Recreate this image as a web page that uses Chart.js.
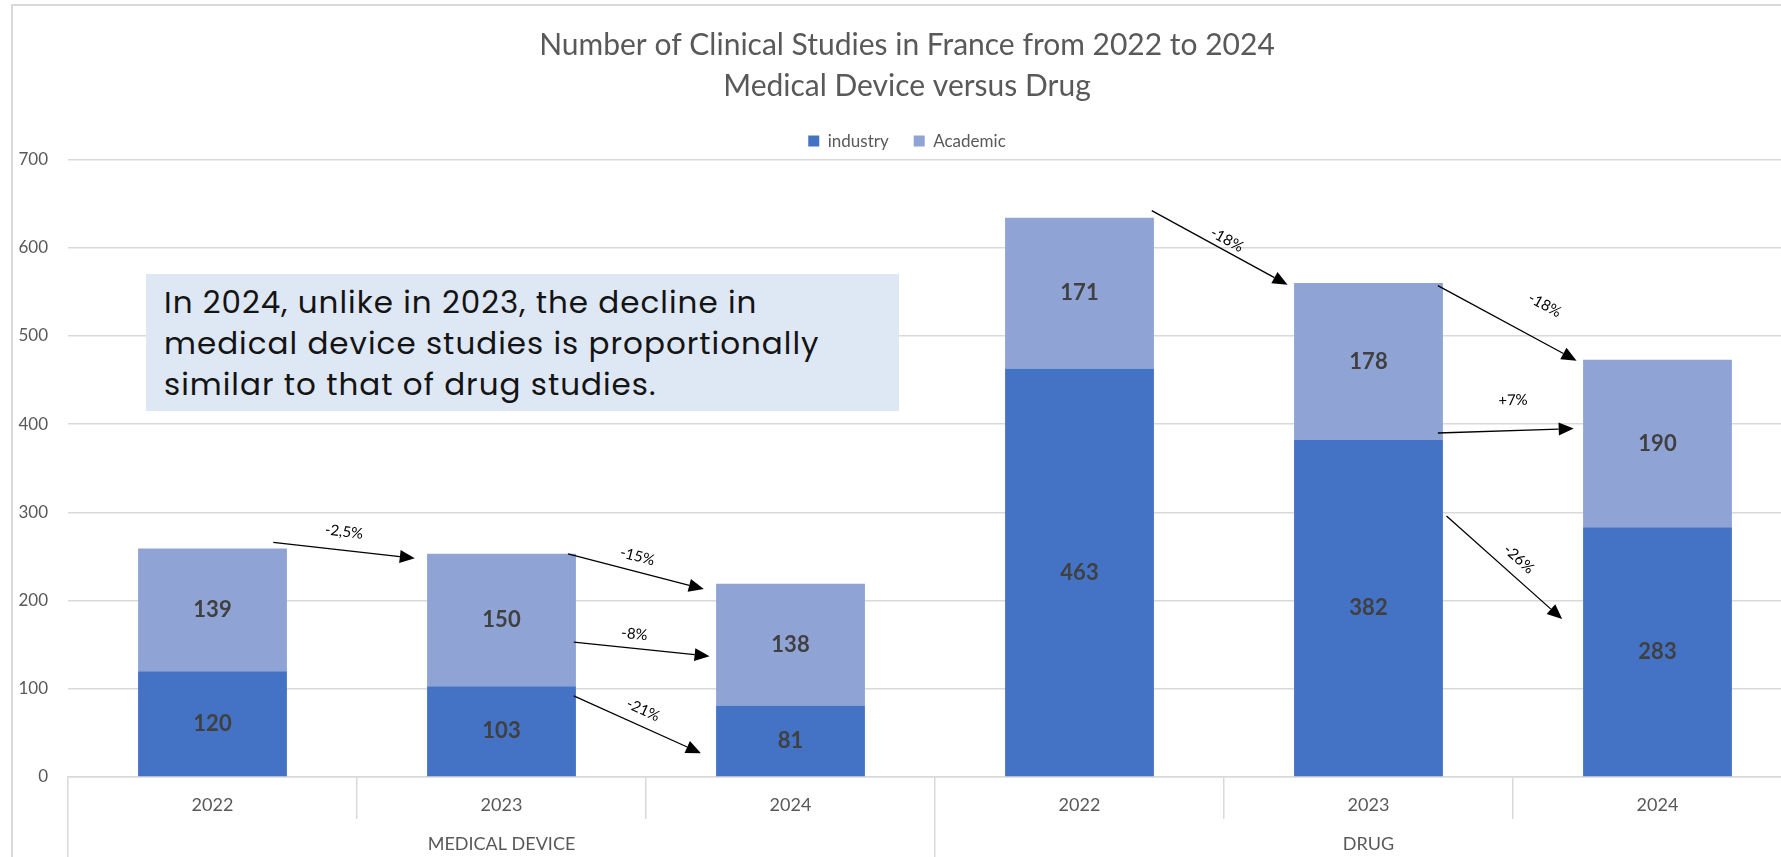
<!DOCTYPE html>
<html>
<head>
<meta charset="utf-8">
<title>Clinical studies in France 2022-2024</title>
<script src="https://cdn.jsdelivr.net/npm/chart.js@4.4.1/dist/chart.umd.min.js"></script>
<style>
  html, body { margin: 0; padding: 0; background: #fff; overflow: hidden; width: 1781px; height: 857px; }
  #frame { position: absolute; left: 11px; top: 4px; width: 3000px; height: 3000px;
           border-left: 2px solid #d9d9d9; border-top: 2px solid #d9d9d9; }
  #wrap { position: absolute; left: 0; top: 0; width: 1814px; height: 857px; }
  #note { position: absolute; left: 146px; top: 274px; width: 753px; height: 137px; box-sizing: border-box;
          padding: 8px 0 0 18px; background: #dee8f4; color: #141414; letter-spacing: 1px;
          font-family: Poppins, Inter, "Open Sans", sans-serif; font-size: 31px; line-height: 41px; }
</style>
</head>
<body>
<div id="frame"></div>
<div id="wrap"><canvas id="chart" width="1814" height="857"></canvas></div>
<div id="note">In 2024, unlike in 2023, the decline in<br>medical device studies is proportionally<br>similar to that of drug studies.</div>
<script>
const years = ["2022", "2023", "2024", "2022", "2023", "2024"];
const groups = ["MEDICAL DEVICE", "DRUG"];
const industry = [120, 103, 81, 463, 382, 283];
const academic = [139, 150, 138, 171, 178, 190];

// change arrows, in data units: [category position, value]
const arrowText = ["-2,5%", "-15%", "-8%", "-21%", "-18%", "-18%", "+7%", "-26%"];
const arrowStart = [[0.21, 266], [1.23, 253], [1.25, 153], [1.25, 92], [3.25, 642], [4.24, 557], [4.24, 390], [4.27, 296]];
const arrowEnd = [[0.70, 248], [1.70, 213], [1.72, 137], [1.69, 27], [3.72, 558], [4.72, 472], [4.71, 395], [4.67, 179]];
const arrowTextAt = [[0.455, 278], [1.47, 250], [1.46, 162], [1.49, 76], [3.51, 609], [4.61, 535], [4.50, 427], [4.52, 247]];

const GREY = "#595959";
const GRID = "#d9d9d9";
const FONT = "Lato, 'Open Sans', sans-serif";

const segmentLabels = {
  id: "segmentLabels",
  afterDatasetsDraw(chart) {
    const ctx = chart.ctx;
    ctx.save();
    ctx.font = `bold 22px ${FONT}`;
    ctx.fillStyle = "#404040";
    ctx.textAlign = "center";
    ctx.textBaseline = "middle";
    chart.data.datasets.forEach((ds, di) => {
      chart.getDatasetMeta(di).data.forEach((bar, i) => {
        ctx.fillText(ds.data[i], bar.x, (bar.y + bar.base) / 2);
      });
    });
    ctx.restore();
  },
};

const changeArrows = {
  id: "changeArrows",
  afterDatasetsDraw(chart) {
    const { ctx, scales: { x, y } } = chart;
    ctx.save();
    ctx.strokeStyle = "#000";
    ctx.fillStyle = "#000";
    ctx.lineWidth = 1.3;
    ctx.font = `15px ${FONT}`;
    ctx.textAlign = "center";
    ctx.textBaseline = "middle";
    arrowText.forEach((txt, i) => {
      const x1 = x.getPixelForValue(arrowStart[i][0]), y1 = y.getPixelForValue(arrowStart[i][1]);
      const x2 = x.getPixelForValue(arrowEnd[i][0]), y2 = y.getPixelForValue(arrowEnd[i][1]);
      const ang = Math.atan2(y2 - y1, x2 - x1);
      const head = 15, half = 6.5;
      const bx = x2 - head * Math.cos(ang), by = y2 - head * Math.sin(ang);
      ctx.beginPath();
      ctx.moveTo(x1, y1);
      ctx.lineTo(bx, by);
      ctx.stroke();
      ctx.beginPath();
      ctx.moveTo(x2, y2);
      ctx.lineTo(bx + half * Math.sin(ang), by - half * Math.cos(ang));
      ctx.lineTo(bx - half * Math.sin(ang), by + half * Math.cos(ang));
      ctx.closePath();
      ctx.fill();
      const tx = x.getPixelForValue(arrowTextAt[i][0]), ty = y.getPixelForValue(arrowTextAt[i][1]);
      ctx.save();
      ctx.translate(tx, ty);
      ctx.rotate(ang);
      ctx.fillText(txt, 0, 0);
      ctx.restore();
    });
    ctx.restore();
  },
};

new Chart(document.getElementById("chart"), {
  type: "bar",
  data: {
    labels: years,
    datasets: [
      { label: "industry", data: industry, backgroundColor: "#4472c4", borderWidth: 0 },
      { label: "Academic", data: academic, backgroundColor: "#8fa3d4", borderWidth: 0 },
    ],
  },
  options: {
    responsive: false,
    animation: false,
    layout: { padding: { left: 12, right: 12, top: 0, bottom: 0 } },
    datasets: { bar: { categoryPercentage: 1, barPercentage: 0.515 } },
    plugins: {
      title: {
        display: true,
        text: ["Number of Clinical Studies in France from 2022 to 2024", "Medical Device versus Drug"],
        color: GREY,
        font: { family: FONT, size: 30, weight: "normal", lineHeight: 1.367 },
        padding: { top: 25, bottom: 0.5 },
      },
      legend: {
        labels: { color: GREY, font: { family: FONT, size: 17 }, boxWidth: 11, boxHeight: 11, padding: 25 },
      },
      tooltip: { enabled: false },
    },
    scales: {
      x: {
        stacked: true,
        grid: { offset: true, drawOnChartArea: false, tickLength: 42, color: GRID, lineWidth: 1.5 },
        border: { display: true, color: GRID, width: 1.5 },
        ticks: { color: GREY, font: { family: FONT, size: 18 }, padding: -25, maxRotation: 0, autoSkip: false },
        afterFit: (s) => { s.height = 42; },
      },
      x2: {
        type: "category",
        labels: groups,
        position: "bottom",
        weight: 1,
        offset: true,
        grid: { offset: true, drawOnChartArea: false, tickLength: 45, color: GRID, lineWidth: 1.5 },
        border: { display: false },
        ticks: { color: GREY, font: { family: FONT, size: 18 }, padding: -31, maxRotation: 0, autoSkip: false },
        afterFit: (s) => { s.height = 38; },
      },
      y: {
        stacked: true,
        min: 0,
        max: 700,
        ticks: { stepSize: 100, color: GREY, font: { family: FONT, size: 17 }, padding: 20 },
        grid: { color: GRID, lineWidth: 1.5, drawTicks: false },
        border: { display: false },
        afterFit: (s) => { s.width = 56; },
      },
    },
  },
  plugins: [segmentLabels, changeArrows],
});
</script>
</body>
</html>
